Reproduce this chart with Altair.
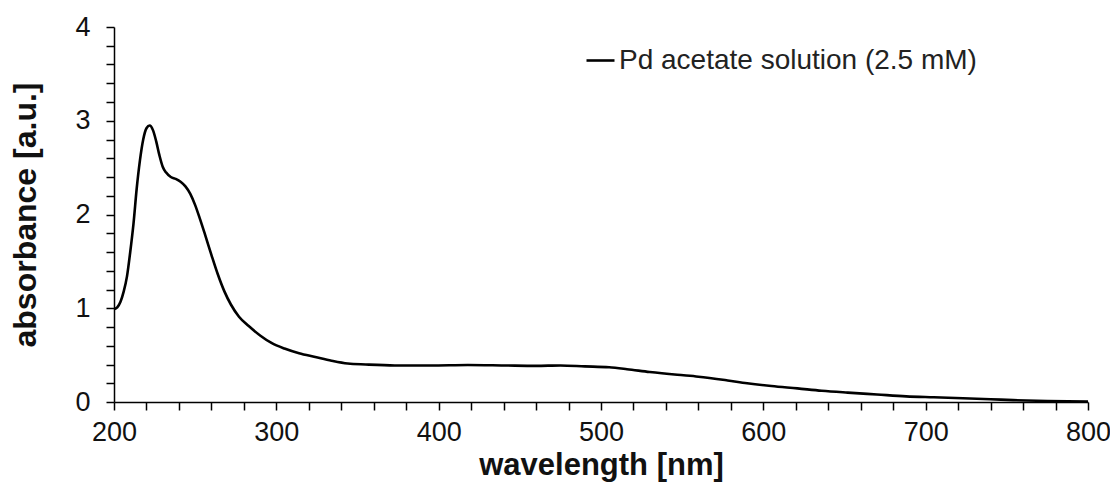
import altair as alt
import pandas as pd

wavelength = [200, 202, 204, 206, 208, 210, 212, 214, 216, 218, 220, 222, 224, 226, 228,
              230, 232, 235, 238, 241, 244, 247, 250, 253, 256, 260, 264, 268, 272, 277,
              283, 290, 297, 305, 314, 324, 334, 344, 355, 373, 395, 418, 440, 460, 475,
              490, 505, 516, 530, 547, 560, 578, 590, 605, 621, 636, 652, 670, 688, 705,
              723, 740, 754, 775, 800]
absorbance = [0.99, 1.01, 1.07, 1.18, 1.34, 1.60, 1.90, 2.28, 2.58, 2.80, 2.92, 2.95, 2.90, 2.78, 2.63,
              2.51, 2.45, 2.40, 2.38, 2.35, 2.30, 2.22, 2.10, 1.95, 1.79, 1.57, 1.36, 1.18, 1.04, 0.91,
              0.81, 0.71, 0.63, 0.57, 0.52, 0.48, 0.44, 0.41, 0.40, 0.39, 0.39, 0.395, 0.39, 0.385, 0.39,
              0.38, 0.37, 0.35, 0.32, 0.29, 0.27, 0.23, 0.20, 0.17, 0.145, 0.12, 0.10, 0.08, 0.06, 0.05,
              0.04, 0.03, 0.02, 0.01, 0.005]
series_name = "Pd acetate solution (2.5 mM)"

x_ticks = list(range(200, 801, 20))
y_ticks = [round(i * 0.2, 1) for i in range(21)]

df = pd.DataFrame({"wavelength": wavelength, "absorbance": absorbance, "series": series_name})

FONT = "Liberation Sans"

chart = alt.Chart(df).mark_line(color="black", strokeWidth=2.6, interpolate="monotone").encode(
    x=alt.X("wavelength:Q",
            scale=alt.Scale(domain=[200, 800], nice=False, zero=False),
            axis=alt.Axis(title="wavelength [nm]", values=x_ticks,
                          labelExpr="datum.value % 100 == 0 ? datum.label : ''",
                          labelFlush=False, labelOverlap=False, labelBound=False,
                          grid=False, tickSize=8, labelPadding=9, titlePadding=5)),
    y=alt.Y("absorbance:Q",
            scale=alt.Scale(domain=[0, 4], nice=False),
            axis=alt.Axis(title="absorbance [a.u.]", values=y_ticks,
                          labelExpr="abs(datum.value - round(datum.value)) < 0.001 ? format(datum.value, 'd') : ''",
                          labelFlush=False, labelOverlap=False, labelBound=False,
                          grid=False, tickSize=8, labelPadding=16, titlePadding=32, titleFontSize=32)),
    color=alt.Color("series:N", scale=alt.Scale(range=["black"]),
                    legend=alt.Legend(title=None, orient="none", legendX=471, legendY=18,
                                      symbolType="stroke", symbolSize=784, symbolStrokeWidth=2.6,
                                      labelFontSize=28, labelFont=FONT, labelColor="#222",
                                      labelOffset=3, labelLimit=0, padding=0)),
).properties(
    width=974, height=375,
    autosize=alt.AutoSizeParams(type="none"),
    padding={"left": 106, "top": 19, "right": 22, "bottom": 82},
).configure_view(stroke=None).configure_axis(
    domainColor="black", domainWidth=1.5, tickColor="black", tickWidth=1.5,
    labelFont=FONT, labelFontSize=27, labelColor="#111",
    titleFont=FONT, titleFontSize=31, titleFontWeight="bold", titleColor="#111",
)

chart.save("out.html", embed_options={"renderer": "svg", "actions": False})
